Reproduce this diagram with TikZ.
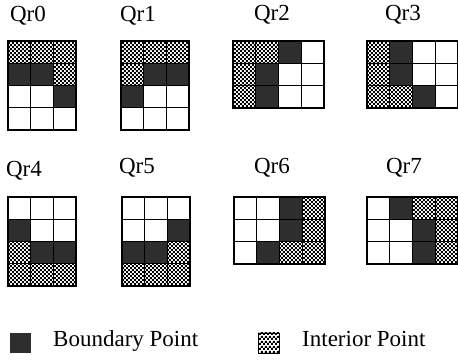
\documentclass[tikz,border=0pt]{standalone}
\usepackage{fontspec}
\setmainfont{Liberation Serif}
\usetikzlibrary{patterns}

\pgfdeclarepatternformonly{finechecks}{\pgfpointorigin}{\pgfqpoint{4.4pt}{4.4pt}}{\pgfqpoint{4.4pt}{4.4pt}}{%
  \pgfpathrectangle{\pgfpointorigin}{\pgfqpoint{2.2pt}{2.2pt}}
  \pgfpathrectangle{\pgfqpoint{2.2pt}{2.2pt}}{\pgfqpoint{2.2pt}{2.2pt}}
  \pgfusepath{fill}}

\newcommand{\cw}{22.7}
\newcommand{\ch}{22.3}
% one region: top left corner, number of columns, cell kinds row by row
\newcommand{\qrgrid}[4]{%
  \begin{scope}[shift={(#1,#2)}]
    \pgfmathtruncatemacro{\nrows}{12/#3}
    \pgfmathtruncatemacro{\lastc}{#3-1}
    \pgfmathtruncatemacro{\lastr}{\nrows-1}
    \foreach \kind [count=\n from 0] in {#4} {
      \pgfmathtruncatemacro{\qc}{mod(\n,#3)}
      \pgfmathtruncatemacro{\qrow}{div(\n,#3)}
      \path[cell\kind] (\qc*\cw,\qrow*\ch) rectangle ++(\cw,\ch);
    }
    \foreach \c in {1,...,\lastc}
      \draw[gridline] (\c*\cw,0) -- (\c*\cw,\nrows*\ch);
    \foreach \r in {1,...,\lastr}
      \draw[gridline] (0,\r*\ch) -- (#3*\cw,\r*\ch);
    \draw[border] (0,0) rectangle (#3*\cw,\nrows*\ch);
  \end{scope}}

\begin{document}
\begin{tikzpicture}[x=1pt, y=-1pt,
                cellI/.style={pattern=finechecks, pattern color=black},
                cellB/.style={fill=black!82},
                cellW/.style={fill=white},
                gridline/.style={line width=1.1pt},
                border/.style={line width=1.8pt},
                qlabel/.style={anchor=base, inner sep=0pt, font=\fontsize{23}{27}\selectfont},
                keybox/.style={minimum width=21pt, minimum height=20pt, inner sep=0pt}]
		\useasboundingbox (0,0) rectangle (458,363);

		\node [qlabel] (q0) at (28,22) {Qr0};
		\node [qlabel] (q1) at (138,22) {Qr1};
		\node [qlabel] (q2) at (272,21) {Qr2};
		\node [qlabel] (q3) at (403,21) {Qr3};
		\node [qlabel] (q4) at (24,177) {Qr4};
		\node [qlabel] (q5) at (137,174) {Qr5};
		\node [qlabel] (q6) at (272,174) {Qr6};
		\node [qlabel] (q7) at (404,174) {Qr7};

		\qrgrid{8}{41}{3}{I,I,I,B,B,I,W,W,B,W,W,W}
		\qrgrid{121}{41}{3}{I,I,I,I,B,B,B,W,W,W,W,W}
		\qrgrid{233}{41}{4}{I,I,B,W,I,B,W,W,I,B,W,W}
		\qrgrid{367}{41}{4}{I,B,W,W,I,B,W,W,I,I,B,W}
		\qrgrid{8}{197}{3}{W,W,W,B,W,W,I,B,B,I,I,I}
		\qrgrid{122}{197}{3}{W,W,W,W,W,B,B,B,I,I,I,I}
		\qrgrid{234}{197}{4}{W,W,B,I,W,W,B,I,W,B,I,I}
		\qrgrid{367}{197}{4}{W,B,I,I,W,W,B,I,W,W,B,I}

		% legend
		\node [keybox, cellB] (kb) at (20,343) {};
		\node [qlabel, anchor=base west] (kbt) at (53,347) {Boundary Point};
		\node [keybox, cellI, draw, thin] (ki) at (269,343) {};
		\node [qlabel, anchor=base west] (kit) at (302,347) {Interior Point};
\end{tikzpicture}
\end{document}
